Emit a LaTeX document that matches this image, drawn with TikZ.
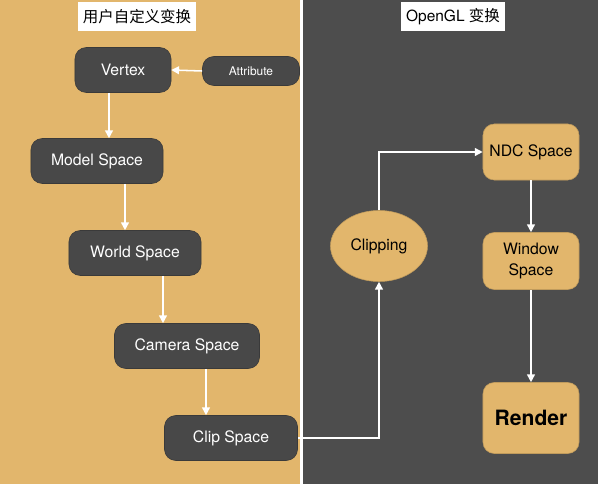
\documentclass[tikz,border=0pt]{standalone}
\usepackage{fontspec}
\setmainfont{TeX Gyre Heros}
\newfontfamily\cjk{Noto Sans CJK SC}
\usetikzlibrary{arrows.meta,shapes.geometric}
\definecolor{panelorange}{RGB}{226,182,108}
\definecolor{panelgray}{RGB}{77,77,77}
\definecolor{boxgray}{RGB}{72,72,72}
\begin{document}
\begin{tikzpicture}[x=0.025cm,y=-0.025cm,
  darkbox/.style={draw=boxgray!80!black,fill=boxgray,text=white,rounded corners=8pt,
    minimum height=1.125cm,font=\fontsize{11.2}{13}\selectfont},
  lightbox/.style={draw=panelorange!85!black,fill=panelorange,text=black,rounded corners=8pt,
    minimum width=2.4cm,align=center,font=\fontsize{11.2}{14.5}\selectfont},
  titlebox/.style={fill=white,text=black,minimum height=0.725cm,font=\fontsize{11}{13}\selectfont},
  flow/.style={draw=white,line width=1.1pt,-{Triangle[length=5.5pt,width=5.5pt]}}]
\useasboundingbox (0,0) rectangle (598,484);
\fill[panelorange] (0,0) rectangle (300,484);
\fill[white] (300,0) rectangle (303,484);
\fill[panelgray] (303,0) rectangle (598,484);

\node[titlebox,minimum width=2.875cm] (usertitle) at (137,17) {\cjk 用户自定义变换};
\node[titlebox,minimum width=2.575cm] (gltitle) at (453,17) {OpenGL {\cjk 变换}};

\node[darkbox,minimum width=2.4cm] (vertex) at (123,70) {Vertex};
\node[darkbox,minimum width=2.425cm,minimum height=0.725cm,font=\fontsize{8.5}{10}\selectfont] (attribute) at (251,71) {Attribute};
\node[darkbox,minimum width=3.3cm] (model) at (97,161) {Model Space};
\node[darkbox,minimum width=3.3cm] (world) at (135,253) {World Space};
\node[darkbox,minimum width=3.625cm] (camera) at (187,346) {Camera Space};
\node[darkbox,minimum width=3.325cm] (clip) at (231,438) {Clip Space};

\node[ellipse,draw=panelorange!85!black,fill=panelorange,minimum width=2.425cm,minimum height=1.775cm,
  inner sep=0pt,font=\fontsize{11.2}{13}\selectfont] (clipping) at (379,246) {Clipping};
\node[lightbox,minimum height=1.4cm] (ndc) at (531,152) {NDC Space};
\node[lightbox,minimum height=1.425cm] (window) at (531,261) {Window\\Space};
\node[lightbox,minimum height=1.775cm,font=\fontsize{15}{18}\selectfont\bfseries] (render) at (531,418) {Render};

\draw[flow] (attribute.west) -- (vertex.east);
\draw[flow] (vertex.south -| 109,0) -- (model.north -| 109,0);
\draw[flow] (model.south -| 125,0) -- (world.north -| 125,0);
\draw[flow] (world.south -| 163,0) -- (camera.north -| 163,0);
\draw[flow] (camera.south -| 206,0) -- (clip.north -| 206,0);
\draw[flow] (clip.east) -| (clipping.south);
\draw[flow] (clipping.north) |- (ndc.west);
\draw[flow] (ndc.south) -- (window.north);
\draw[flow] (window.south) -- (render.north);
\end{tikzpicture}
\end{document}
